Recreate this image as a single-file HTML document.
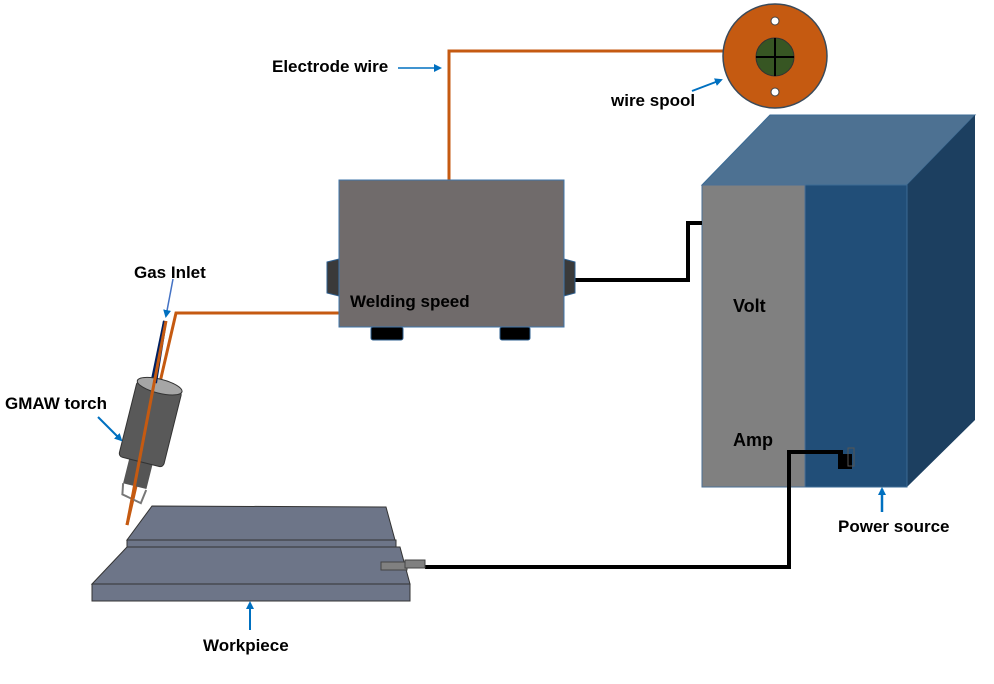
<!DOCTYPE html>
<html><head><meta charset="utf-8"><style>
body{margin:0;background:#fff;}
svg{display:block;font-family:"Liberation Sans",sans-serif;font-weight:bold;}
</style></head><body>
<svg width="994" height="684" viewBox="0 0 994 684" xmlns="http://www.w3.org/2000/svg">
<defs><marker id="a" markerWidth="8" markerHeight="8" refX="6" refY="4" orient="auto" markerUnits="userSpaceOnUse"><path d="M0,0 L8,4 L0,8 Z" fill="#0070c0"/></marker></defs>
<!-- power source -->
<polygon points="702,185 770,115 975,115 907,185" fill="#4d7192" stroke="#3a6a94"/>
<polygon points="907,185 975,115 975,420 907,487" fill="#1c3f60"/>
<rect x="805" y="185" width="102" height="302" fill="#214e78" stroke="#3a6a94"/>
<rect x="702" y="185" width="103" height="302" fill="#808080" stroke="#4a6f96"/>
<text x="733" y="312" font-size="18">Volt</text>
<text x="733" y="446" font-size="18">Amp</text>
<rect x="838" y="454" width="14" height="15" fill="#000"/>
<rect x="848" y="448" width="6" height="18" fill="none" stroke="#555"/>
<!-- cables -->
<polyline points="575,280 688,280 688,223 702,223" fill="none" stroke="#000" stroke-width="4"/>
<polyline points="425,567 789,567 789,452 843,452" fill="none" stroke="#000" stroke-width="4"/>
<!-- wire -->
<polyline points="449,180 449,51 725,51" fill="none" stroke="#c55a11" stroke-width="3"/>
<polyline points="339,313 176,313 127,525" fill="none" stroke="#c55a11" stroke-width="3"/>
<!-- spool -->
<circle cx="775" cy="56" r="52" fill="#c55a11" stroke="#3a4a5a" stroke-width="1.5"/>
<circle cx="775" cy="57" r="19" fill="#375623" stroke="#333"/>
<line x1="756" y1="57" x2="794" y2="57" stroke="#000" stroke-width="2"/>
<line x1="775" y1="38" x2="775" y2="76" stroke="#000" stroke-width="2"/>
<circle cx="775" cy="21" r="4" fill="#fff" stroke="#444"/>
<circle cx="775" cy="92" r="4" fill="#fff" stroke="#444"/>
<!-- welding box -->
<polygon points="327,262 339,259 339,296 327,293" fill="#3a3a3a" stroke="#2e5f8f"/>
<polygon points="575,262 564,259 564,296 575,293" fill="#3a3a3a" stroke="#2e5f8f"/>
<rect x="371" y="327" width="32" height="13" rx="2" fill="#000" stroke="#2e5f8f"/>
<rect x="500" y="327" width="30" height="13" rx="2" fill="#000" stroke="#2e5f8f"/>
<rect x="339" y="180" width="225" height="147" fill="#706b6b" stroke="#3f74a8"/>
<text x="350" y="307" font-size="17">Welding speed</text>
<!-- torch -->
<line x1="165" y1="321" x2="152" y2="384" stroke="#002060" stroke-width="4"/>
<g transform="translate(150,425) rotate(14)">
<rect x="-12" y="35" width="24" height="28" fill="#555"/>
<polyline points="-12,63 -10,74 10,78 12,64" fill="none" stroke="#777" stroke-width="2"/>
<rect x="-23" y="-40" width="46" height="78" rx="4" fill="#595959" stroke="#333"/>
<ellipse cx="0" cy="-40" rx="23" ry="7" fill="#a6a6a6" stroke="#333"/>
</g>
<line x1="165" y1="321" x2="155" y2="383" stroke="#002060" stroke-width="4"/>
<line x1="166" y1="321" x2="127" y2="525" stroke="#c55a11" stroke-width="3"/>
<!-- workpiece -->
<polygon points="127,547 400,547 410,584 92,584" fill="#6d7588" stroke="#333"/>
<rect x="92" y="584" width="318" height="17" fill="#6d7588" stroke="#333"/>
<polygon points="152,506 386,507 395,540 127,540" fill="#6d7588" stroke="#333"/>
<rect x="127" y="540" width="269" height="7" fill="#6d7588" stroke="#333"/>
<rect x="381" y="562" width="26" height="8" fill="#808080" stroke="#444"/>
<rect x="405" y="560" width="20" height="8" fill="#808080" stroke="#444"/>
<!-- labels & arrows -->
<text x="272" y="72" font-size="17">Electrode wire</text>
<line x1="398" y1="68" x2="440" y2="68" stroke="#0070c0" stroke-width="1.5" marker-end="url(#a)"/>
<text x="611" y="106" font-size="17">wire spool</text>
<line x1="692" y1="91" x2="721" y2="80" stroke="#0070c0" stroke-width="2" marker-end="url(#a)"/>
<text x="134" y="278" font-size="17">Gas Inlet</text>
<line x1="173" y1="279" x2="166" y2="316" stroke="#4472c4" stroke-width="1.5" marker-end="url(#a)"/>
<text x="5" y="409" font-size="17">GMAW  torch</text>
<line x1="98" y1="417" x2="121" y2="440" stroke="#0070c0" stroke-width="2" marker-end="url(#a)"/>
<text x="203" y="651" font-size="17">Workpiece</text>
<line x1="250" y1="630" x2="250" y2="603" stroke="#0070c0" stroke-width="2" marker-end="url(#a)"/>
<text x="838" y="532" font-size="17">Power source</text>
<line x1="882" y1="512" x2="882" y2="489" stroke="#0070c0" stroke-width="2.5" marker-end="url(#a)"/>
</svg>
</body></html>
